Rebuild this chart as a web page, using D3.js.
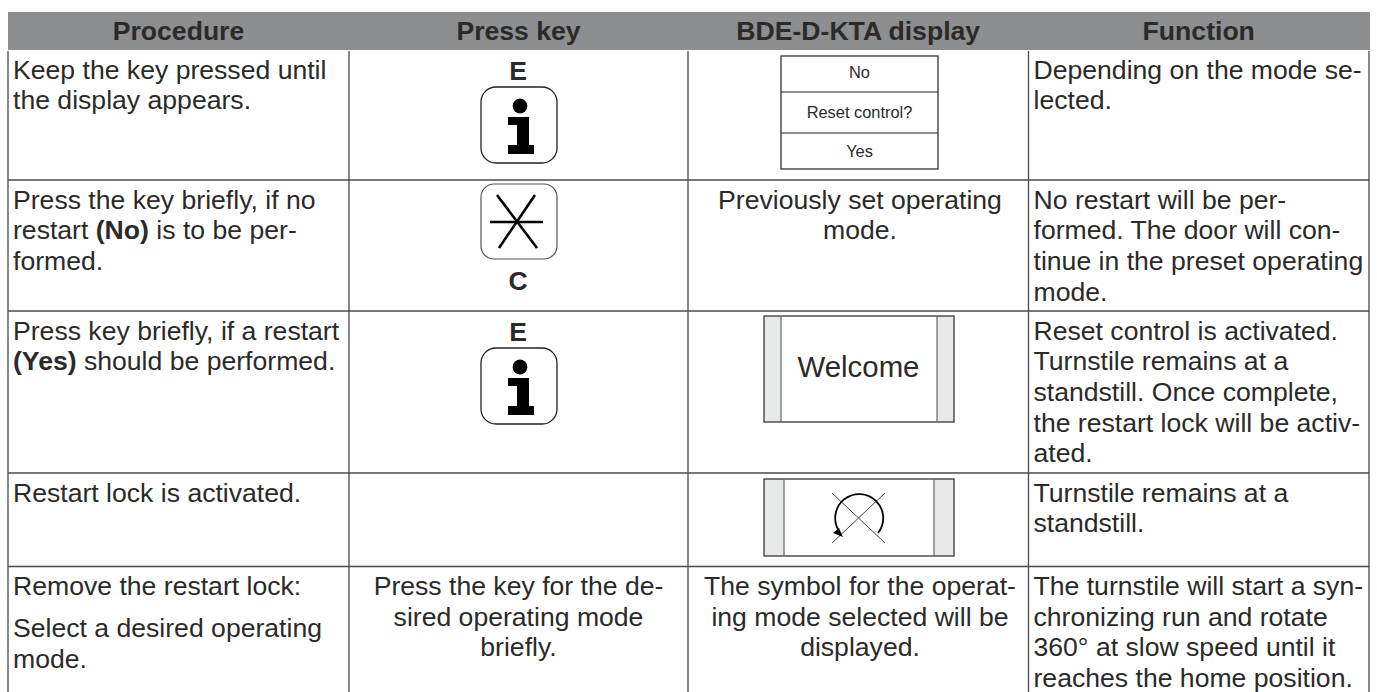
<!DOCTYPE html>
<html>
<head>
<meta charset="utf-8">
<script src="https://cdn.jsdelivr.net/npm/d3@7"></script>
<style>
  body { margin: 0; background: #fff; }
  text { font-family: "Liberation Sans", Arial, sans-serif; fill: #2b2a29; }
</style>
</head>
<body>
<svg width="1377" height="692"></svg>
<script>
const headers = ['Procedure', 'Press key', 'BDE-D-KTA display', 'Function']

// text lines per row, null means there is no text in this cell
const procedure = [
    ['Keep the key pressed until', 'the display appears.'],
    ['Press the key briefly, if no', 'restart |(No)| is to be per-', 'formed.'],
    ['Press key briefly, if a restart', '|(Yes)| should be performed.'],
    ['Restart lock is activated.'],
    ['Remove the restart lock:', '', 'Select a desired operating', 'mode.']
]
const pressKeyText = [null, null, null, null,
    ['Press the key for the de-', 'sired operating mode', 'briefly.']]
const pressKeyIcon = ['info', 'star', 'info', null, null]
const pressKeyLetter = ['E', 'C', 'E', null, null]
const displayText = [null,
    ['Previously set operating', 'mode.'], null, null,
    ['The symbol for the operat-', 'ing mode selected will be', 'displayed.']]
const displayIcon = ['menu', null, 'welcome', 'lock', null]
const menuLines = ['No', 'Reset control?', 'Yes']
const functionText = [
    ['Depending on the mode se-', 'lected.'],
    ['No restart will be per-', 'formed. The door will con-', 'tinue in the preset operating', 'mode.'],
    ['Reset control is activated.', 'Turnstile remains at a', 'standstill. Once complete,', 'the restart lock will be activ-', 'ated.'],
    ['Turnstile remains at a', 'standstill.'],
    ['The turnstile will start a syn-', 'chronizing run and rotate', '360° at slow speed until it', 'reaches the home position.']
]

const svg = d3.select('svg')
const lineColor = '#4a4a4a'
const colX = [8, 349, 688, 1028.5, 1369]
const rowY = [50, 180, 311, 473, 566.5, 692]
const lineH = 30.7
const fontSize = 26.6

// header
svg.append('rect').attr('x', 8).attr('y', 12).attr('width', 1362).attr('height', 38).attr('fill', '#8c8e90')
svg.selectAll('text.head').data(headers).enter().append('text')
    .attr('class', 'head')
    .attr('x', (d, i) => (colX[i] + colX[i + 1]) / 2)
    .attr('y', 40)
    .attr('text-anchor', 'middle')
    .attr('font-size', fontSize)
    .attr('font-weight', 'bold')
    .text(d => d)

// grid
colX.forEach(x => {
    svg.append('line').attr('x1', x).attr('x2', x).attr('y1', 51).attr('y2', 692)
        .attr('stroke', lineColor).attr('stroke-width', 1.3)
})
rowY.slice(1, 5).forEach(y => {
    svg.append('line').attr('x1', colX[0]).attr('x2', colX[4]).attr('y1', y).attr('y2', y)
        .attr('stroke', lineColor).attr('stroke-width', 1.3)
})

function writeLines(lines, x, y, anchor) {
    let yy = y
    lines.forEach(line => {
        // an empty line is only a paragraph gap
        if (line === '') {
            yy += 11.5
            return
        }
        const t = svg.append('text')
            .attr('x', x)
            .attr('y', yy)
            .attr('text-anchor', anchor)
            .attr('font-size', fontSize)
        // |...| marks the bold part of a line
        line.split('|').forEach((part, k) => {
            t.append('tspan').attr('font-weight', k % 2 ? 'bold' : 'normal').text(part)
        })
        yy += lineH
    })
}

function drawInfo(g) {
    g.append('rect').attr('x', -38).attr('y', 0).attr('width', 76).attr('height', 76).attr('rx', 15)
        .attr('fill', '#fff').attr('stroke', '#222').attr('stroke-width', 1.3)
    g.append('circle').attr('cx', 1).attr('cy', 19).attr('r', 7.4).attr('fill', '#000')
    g.append('path').attr('fill', '#000')
        .attr('d', 'M-11 30H10V58H15V67H-11V58H-2V38H-11Z')
}

function drawStar(g) {
    g.append('rect').attr('x', -38).attr('y', 0).attr('width', 76).attr('height', 75).attr('rx', 13)
        .attr('fill', '#fff').attr('stroke', '#555').attr('stroke-width', 1.2)
    const star = [[-29, 38, 24, 38], [-22, 11, 18, 64], [16, 11, -20, 64]]
    g.selectAll('line').data(star).enter().append('line')
        .attr('x1', d => d[0]).attr('y1', d => d[1])
        .attr('x2', d => d[2]).attr('y2', d => d[3])
        .attr('stroke', '#000').attr('stroke-width', 2.6)
}

function drawMenu(g) {
    g.append('rect').attr('x', 0).attr('y', 0).attr('width', 157).attr('height', 113)
        .attr('fill', '#fff').attr('stroke', '#222').attr('stroke-width', 1.2)
    const dividers = [36, 77]
    const baselines = [22, 62, 101]
    dividers.forEach(y => {
        g.append('line').attr('x1', 0).attr('x2', 157).attr('y1', y).attr('y2', y)
            .attr('stroke', '#222').attr('stroke-width', 1.2)
    })
    menuLines.forEach((txt, i) => {
        g.append('text').attr('x', 78.5).attr('y', baselines[i]).attr('text-anchor', 'middle')
            .attr('font-size', 16.4).text(txt)
    })
}

function drawPanel(g, w, h, side) {
    g.append('rect').attr('width', w).attr('height', h).attr('fill', '#e8e9e9')
    g.append('rect').attr('x', side).attr('width', w - side * 2).attr('height', h).attr('fill', '#fff')
    g.append('rect').attr('width', w).attr('height', h).attr('fill', 'none')
        .attr('stroke', '#444').attr('stroke-width', 1.4)
    ;[side, w - side].forEach(x => {
        g.append('line').attr('x1', x).attr('x2', x).attr('y1', 0).attr('y2', h)
            .attr('stroke', '#666').attr('stroke-width', 1.2)
    })
}

// table rows
procedure.forEach((lines, i) => {
    const top = rowY[i]
    const base = top + 28.5
    writeLines(lines, colX[0] + 5, base, 'start')
    if (pressKeyText[i]) writeLines(pressKeyText[i], 518.5, base, 'middle')
    if (displayText[i]) writeLines(displayText[i], 860, base, 'middle')
    writeLines(functionText[i], colX[3] + 5, base, 'start')

    if (pressKeyLetter[i]) {
        const letterY = pressKeyLetter[i] === 'C' ? top + 110 : top + 30
        svg.append('text').attr('x', 518).attr('y', letterY).attr('text-anchor', 'middle')
            .attr('font-size', fontSize).attr('font-weight', 'bold').text(pressKeyLetter[i])
    }
    if (pressKeyIcon[i] === 'info') drawInfo(svg.append('g').attr('transform', `translate(519,${top + 37})`))
    if (pressKeyIcon[i] === 'star') drawStar(svg.append('g').attr('transform', `translate(519,${top + 4})`))

    if (displayIcon[i] === 'menu') drawMenu(svg.append('g').attr('transform', 'translate(781,56)'))
    if (displayIcon[i] === 'welcome') {
        const g = svg.append('g').attr('transform', 'translate(764,316)')
        drawPanel(g, 190, 106, 17)
        g.append('text').attr('x', 94.5).attr('y', 61).attr('text-anchor', 'middle').attr('font-size', 29.4).text('Welcome')
    }
    if (displayIcon[i] === 'lock') {
        const g = svg.append('g').attr('transform', 'translate(764,479)')
        drawPanel(g, 190, 77, 20)
        g.append('line').attr('x1', 68).attr('y1', 14).attr('x2', 121).attr('y2', 64).attr('stroke', '#444')
        g.append('line').attr('x1', 121).attr('y1', 14).attr('x2', 68).attr('y2', 64).attr('stroke', '#444')
        g.append('path').attr('fill', 'none').attr('stroke', '#000').attr('stroke-width', 1.8)
            .attr('d', 'M114 54A24 24 0 1 0 75 52')
        g.append('path').attr('fill', '#000').attr('d', 'M69 54L75 49L79 58Z')
    }
})
</script>
</body>
</html>
